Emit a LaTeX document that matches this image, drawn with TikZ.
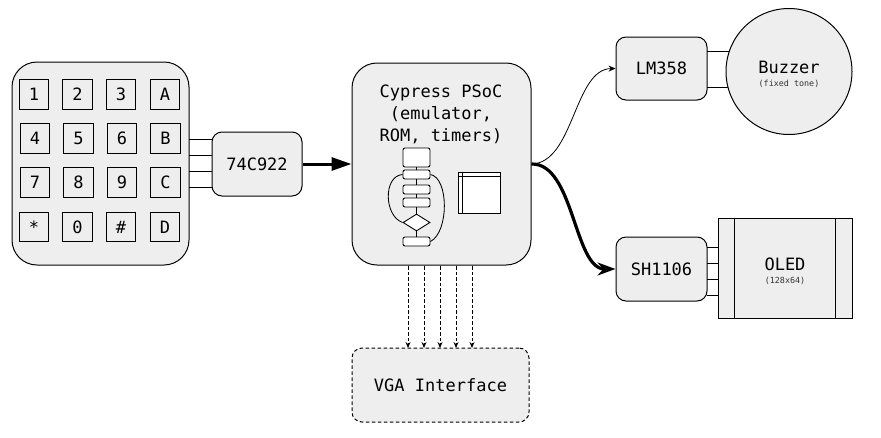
\documentclass[tikz,border=0pt]{standalone}
\usepackage{fontspec}
\setmonofont{DejaVu Sans Mono}
\usetikzlibrary{arrows.meta,calc,positioning,shapes.geometric}
\definecolor{blockColor}{RGB}{238,238,238}
\tikzset{block/.style={draw, fill=blockColor, align=center, font=\ttfamily\fontsize{17}{22}\selectfont, inner sep=0pt, line width=1pt}}
\tikzset{rblock/.style={block, rounded corners=10pt}}
\tikzset{keypadkey/.style={draw, font=\ttfamily\fontsize{17}{20}\selectfont, minimum width=29.5pt, minimum height=29.5pt, inner sep=0pt, line width=1pt}}
\tikzset{flowbox/.style={draw, fill=white, minimum width=27pt, inner sep=0pt, rounded corners=2pt, line width=.9pt}}
\tikzset{tiny label/.style={font=\ttfamily\fontsize{8.4}{9}\selectfont, text=black!80}}
\tikzstyle{wire} = [line width=.85pt]
\tikzstyle{arrow} = [-{Triangle[length=20pt, width=13pt]}, line width=3pt]

\begin{document}
\begin{tikzpicture}[x=1pt, y=-1pt]
	\useasboundingbox (0,0) rectangle (881,437);

	% Nodes
	\node (keypad) [rblock, rounded corners=25pt, minimum width=177pt, minimum height=203pt] at (100.5,163.5) {};
	\foreach \name/\kx/\ky in {1/34/94.5, 2/77.5/94.5, 3/121/94.5, A/165/94.5, 4/35/138.5, 5/78.5/138.5, 6/122/138.5, B/165.5/138.5, 7/35/182.5, 8/78.5/182.5, 9/122/182.5, C/165.5/182.5, */34/227, 0/77.5/227, \#/121/227, D/165/227}
		\node [keypadkey] at (\kx,\ky) {\name};

	\node (encoder) [rblock, minimum width=90pt, minimum height=64pt] at (257,164) {74C922};

	\node (psoc) [rblock, rounded corners=25pt, minimum width=179pt, minimum height=202pt] at (441.5,164) {};
	\node (psoctext) [align=center, font=\ttfamily\fontsize{17}{22}\selectfont, inner sep=0pt] at (441,114) {Cypress PSoC\\(emulator,\\ROM, timers)};

	\node (vga) [rblock, dash pattern=on 3.5pt off 2.5pt, minimum width=177pt, minimum height=74pt] at (440.5,385) {VGA Interface};

	\node (lm) [rblock, minimum width=91pt, minimum height=63pt] at (661.5,68.5) {LM358};
	\node (sh) [rblock, minimum width=91pt, minimum height=64pt] at (661.5,269) {SH1106};

	% Wires first so that the blocks cover their ends
	\foreach \wy in {139,155,171,187}
		\draw [wire] (189,\wy) -- (212,\wy);
	\foreach \wy in {51,87}
		\draw [wire] (707,\wy) -- (730,\wy);
	\foreach \wy in {247,263,279,295}
		\draw [wire] (707,\wy) -- (718,\wy);

	\node (buzzer) [block, circle, minimum size=126pt] at (789,71.5) {};
	\node (buzzertext) [font=\ttfamily\fontsize{17}{20}\selectfont, inner sep=0pt] at (789,67.5) {Buzzer};
	\node (buzzersub) [tiny label, below=2.5pt of buzzertext] {(fixed tone)};

	\node (oled) [block, minimum width=134pt, minimum height=100pt] at (785,268) {};
	\draw [wire] (734,218) -- (734,318);
	\draw [wire] (835,218) -- (835,318);
	\node (oledtext) [font=\ttfamily\fontsize{17}{20}\selectfont, inner sep=0pt] at (785,264) {OLED};
	\node (oledsub) [tiny label, below=2.5pt of oledtext] {(128x64)};

	% Flow chart
	\node (fa) [flowbox, minimum height=19pt] at (416.5,157.5) {};
	\node (fb) [flowbox, minimum height=9pt] at (416.5,174.5) {};
	\node (fc) [flowbox, minimum height=9pt] at (416.5,189.5) {};
	\node (fd) [flowbox, minimum height=9pt] at (416.5,202.5) {};
	\node (fe) [draw, fill=white, diamond, aspect=1.55, minimum width=27pt, minimum height=17pt, inner sep=0pt, line width=.9pt] at (416.5,222.5) {};
	\node (ff) [flowbox, minimum height=9pt] at (416.5,241.5) {};
	\draw [wire] (fa) -- (fb);
	\draw [wire] (fb) -- (fc);
	\draw [wire] (fc) -- (fd);
	\draw [wire] (fd) -- (fe);
	\draw [wire] (fe) -- (ff);
	\draw [wire] (fb.west) .. controls (383,176) and (384,216) .. (fe.west);
	\draw [wire] (fb.east) .. controls (449,178) and (449,232) .. (ff.east);

	% Table
	\node (tbl) [draw, fill=white, minimum width=42pt, minimum height=41pt, inner sep=0pt, line width=1pt] at (479,192.5) {};
	\draw [wire] ($(tbl.north west)+(5,0)$) -- ($(tbl.south west)+(5,0)$);
	\draw [wire] ($(tbl.north west)+(0,5)$) -- ($(tbl.north east)+(0,5)$);

	% Connectors
	\draw [arrow] (encoder) -- (psoc);
	\draw [-{Stealth[length=7pt,width=6pt]}, line width=.8pt] (psoc.east) .. controls (574,163) and (574,69) .. (lm.west);
	\draw [-{Stealth[length=18pt,width=13pt]}, line width=3.2pt] (psoc.east) .. controls (574,163) and (574,269) .. (sh.west);
	\foreach \ax in {408,424,440,456,472}
		\draw [-{Stealth[length=6pt,width=5pt]}, dash pattern=on 3.5pt off 2pt, line width=.85pt] (\ax,266) -- (\ax,348);
\end{tikzpicture}
\end{document}
